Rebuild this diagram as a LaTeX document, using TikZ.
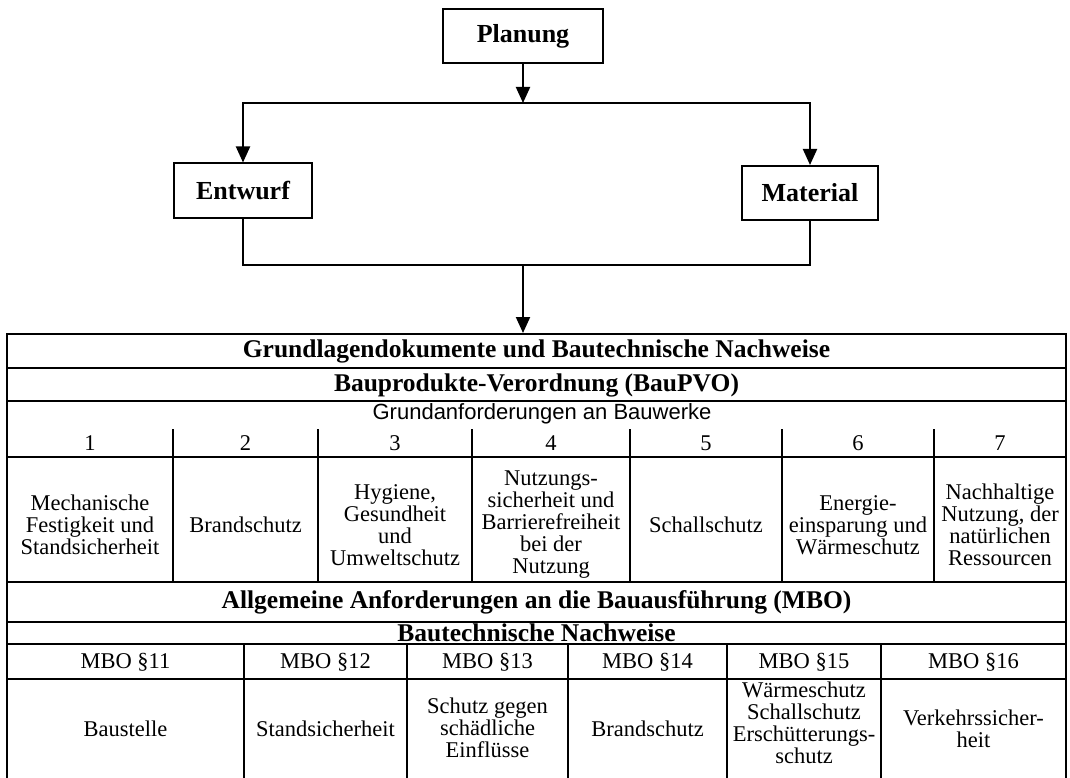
\documentclass[tikz,border=0pt]{standalone}
\usepackage{fontspec}
\setmainfont{Liberation Serif}
\newfontfamily\arialfont{Liberation Sans}
\usetikzlibrary{arrows.meta}

\begin{document}
\begin{tikzpicture}[x=1pt,y=-1pt,
	box/.style={draw,line width=2pt,minimum height=54pt,inner sep=0pt,font=\fontsize{26}{30}\selectfont\bfseries},
	flow/.style={line width=2pt,-{Triangle[length=16pt,width=14pt]}},
	head/.style={font=\fontsize{25.5}{28}\selectfont\bfseries},
	cell/.style={align=center,inner sep=0pt,font=\fontsize{22.5}{22}\selectfont},
	thickrule/.style={line width=2.3pt},
	thinrule/.style={line width=1.3pt}]
	\useasboundingbox (0,0) rectangle (1070,778);
	% Ablauf oben
	\node[box,minimum width=160pt] (planung) at (523,36) {Planung};
	\node[box,minimum width=138pt] (entwurf) at (243,190.5) {Entwurf};
	\node[box,minimum width=136pt] (material) at (810,193) {Material};
	\coordinate (split) at (523,103);
	\coordinate (join) at (523,265);
	\coordinate (tabtop) at (523,333);
	\draw[flow] (planung) -- (split);
	\draw[flow] (split) -| (entwurf);
	\draw[flow] (split) -| (material);
	\draw[line width=2pt] (entwurf) |- (join) -| (material);
	\draw[flow] (join) -- (tabtop);
	% Tabelle
	\draw[thickrule] (7,778) -- (7,334) -- (1066,334) -- (1066,778);
	\draw[thickrule] (7,368) -- (1066,368);
	\draw[thinrule] (7,401) -- (1066,401);
	\draw[thinrule] (7,457) -- (1066,457);
	\draw[thickrule] (7,582) -- (1066,582);
	\draw[thickrule] (7,622) -- (1066,622);
	\draw[thickrule] (7,644) -- (1066,644);
	\draw[thinrule] (7,679) -- (1066,679);
	\foreach \x in {173,318,472,630,782,934}
		\draw[thinrule] (\x,429) -- (\x,582);
	\foreach \x in {244,407,568,727,881}
		\draw[thinrule] (\x,644) -- (\x,778);
	\node[head] (grundlagen) at (536.5,351) {Grundlagendokumente und Bautechnische Nachweise};
	\node[head] (baupvo) at (536.5,385) {Bauprodukte-Verordnung (BauPVO)};
	\node[cell,font=\fontsize{22}{22}\selectfont\arialfont] (grundanf) at (542,414) {Grundanforderungen an Bauwerke};
	\node[cell] (nr1) at (90,443) {1};
	\node[cell] (nr2) at (245.5,443) {2};
	\node[cell] (nr3) at (395,443) {3};
	\node[cell] (nr4) at (551,443) {4};
	\node[cell] (nr5) at (706,443) {5};
	\node[cell] (nr6) at (858,443) {6};
	\node[cell] (nr7) at (1000,443) {7};
	\node[cell] (ga1) at (90,525) {Mechanische\\Festigkeit und\\Standsicherheit};
	\node[cell] (ga2) at (245.5,525) {Brandschutz};
	\node[cell] (ga3) at (395,525) {Hygiene,\\Gesundheit\\und\\Umweltschutz};
	\node[cell] (ga4) at (551,525) {Nutzungs-\\sicherheit und\\Barrierefreiheit\\bei der\\Nutzung};
	\node[cell] (ga5) at (706,525) {Schallschutz};
	\node[cell] (ga6) at (858,525) {Energie-\\einsparung und\\Wärmeschutz};
	\node[cell] (ga7) at (1000,525) {Nachhaltige\\Nutzung, der\\natürlichen\\Ressourcen};
	\node[head] (mbo) at (536.5,602) {Allgemeine Anforderungen an die Bauausführung (MBO)};
	\node[head] (nachweise) at (536.5,633) {Bautechnische Nachweise};
	\node[cell] (par11) at (125.5,662) {MBO §11};
	\node[cell] (par12) at (325.5,662) {MBO §12};
	\node[cell] (par13) at (487.5,662) {MBO §13};
	\node[cell] (par14) at (647.5,662) {MBO §14};
	\node[cell] (par15) at (804,662) {MBO §15};
	\node[cell] (par16) at (973.5,662) {MBO §16};
	\node[cell] (nw11) at (125.5,729) {Baustelle};
	\node[cell] (nw12) at (325.5,729) {Standsicherheit};
	\node[cell] (nw13) at (487.5,728) {Schutz gegen\\schädliche\\Einflüsse};
	\node[cell] (nw14) at (647.5,729) {Brandschutz};
	\node[cell] (nw15) at (804,723) {Wärmeschutz\\Schallschutz\\Erschütterungs-\\schutz};
	\node[cell] (nw16) at (973.5,729) {Verkehrssicher-\\heit};
\end{tikzpicture}
\end{document}
